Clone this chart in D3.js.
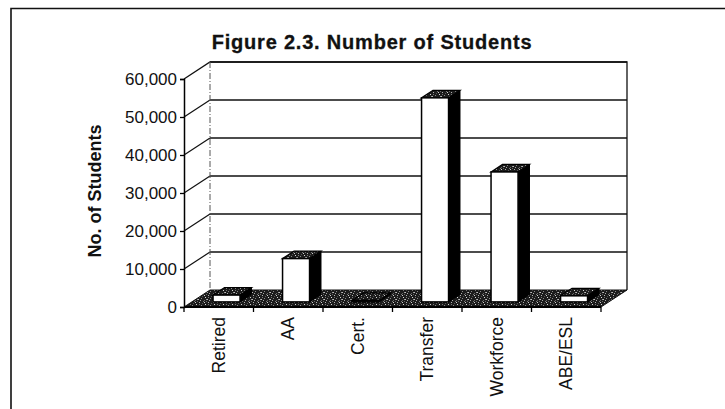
<!DOCTYPE html>
<html>
<head>
<meta charset="utf-8">
<script src="https://cdn.jsdelivr.net/npm/d3@7"></script>
<style>
  html, body { margin: 0; padding: 0; background: #fff; }
  svg { display: block; font-family: Arial, "Liberation Sans", Helvetica, sans-serif; }
</style>
</head>
<body>
<svg id="chart" width="725" height="409"></svg>
<script>
// Students by program category
const categories = ["Retired", "AA", "Cert.", "Transfer", "Workforce", "ABE/ESL"];
const students = [1800, 11400, 400, 53700, 34200, 1600];
const yTicks = [0, 10000, 20000, 30000, 40000, 50000, 60000];
const chartTitle = "Figure 2.3. Number of Students";
const yTitle = "No. of Students";

const svg = d3.select("#chart");

// oblique projection of the depth axis: full depth shifts right and up
const depthX = 26, depthY = -17;
const proj = (x, y, d) => [x + depthX * d, y + depthY * d];

// front-plane scales
const x = d3.scaleBand().domain(categories).range([184, 601]).paddingInner(0).paddingOuter(0);
const y = d3.scaleLinear().domain([0, 60000]).range([307, 79]);

// speckled dark texture for floor and bar tops
const defs = svg.append("defs");
const pat = defs.append("pattern").attr("id", "speckle")
  .attr("patternUnits", "userSpaceOnUse").attr("width", 9).attr("height", 7);
pat.append("rect").attr("width", 9).attr("height", 7).attr("fill", "#1c1c1c");
const specks = [[1,1,"#b0b0b0"],[5,0,"#777"],[7,3,"#d8d8d8"],[3,4,"#888"],[0,5,"#bbb"],[6,6,"#666"],
                [4,2,"#555"],[8,5,"#999"],[2,6,"#aaa"],[6,1,"#ccc"],[8,0,"#666"],[1,3,"#777"]];
specks.forEach(([sx, sy, c]) => pat.append("rect").attr("x", sx).attr("y", sy).attr("width", 1).attr("height", 1).attr("fill", c));

// outer frame
svg.append("path").attr("d", "M11,409 L11,8.5 L725,8.5")
  .attr("fill", "none").attr("stroke", "#111").attr("stroke-width", 1.6);

const x0 = x.range()[0], x1 = x.range()[1];
const vMax = y.domain()[1];

// back wall gridlines
const gridVals = yTicks.filter(v => v > 0);
svg.append("g").selectAll("line").data(gridVals).join("line")
  .attr("x1", x0 + depthX).attr("x2", x1 + depthX)
  .attr("y1", d => y(d) + depthY).attr("y2", d => y(d) + depthY)
  .attr("stroke", "#111").attr("stroke-width", 1.3);

// side wall gridlines
svg.append("g").selectAll("line").data(gridVals.filter(v => v < vMax)).join("line")
  .attr("x1", x0).attr("y1", d => y(d))
  .attr("x2", x0 + depthX).attr("y2", d => y(d) + depthY)
  .attr("stroke", "#111").attr("stroke-width", 1.2);

// walls outline: top edges, back corner, right edge
const topF = [x0, y(vMax)], topB = proj(x0, y(vMax), 1), topR = proj(x1, y(vMax), 1);
svg.append("path")
  .attr("d", `M${topF} L${topB} L${topR} L${proj(x1, y(0), 1)}`)
  .attr("fill", "none").attr("stroke", "#111").attr("stroke-width", 1.3);
svg.append("line")
  .attr("x1", x0 + depthX).attr("x2", x0 + depthX)
  .attr("y1", y(vMax) + depthY).attr("y2", y(0) + depthY)
  .attr("stroke", "#555").attr("stroke-width", 1).attr("stroke-dasharray", "6,2,1,2");

// floor
const floorPts = [[x0, y(0)], [x1, y(0)], proj(x1, y(0), 1), proj(x0, y(0), 1)];
svg.append("path").attr("d", "M" + floorPts.join("L") + "Z")
  .attr("fill", "url(#speckle)").attr("stroke", "#111").attr("stroke-width", 1);
svg.append("line").attr("x1", x0).attr("x2", x1).attr("y1", y(0)).attr("y2", y(0))
  .attr("stroke", "#000").attr("stroke-width", 2);

// 3D columns
const d0 = 0.3, d1 = 0.74;
const barW = 27;
const bars = svg.append("g").selectAll("g").data(categories.map((c, i) => ({ c, v: students[i] }))).join("g");
bars.each(function (d) {
  const g = d3.select(this);
  const cx = x(d.c) + x.bandwidth() / 2;
  const [fx, fyBase] = proj(cx - barW / 2, y(0), d0);
  const [, fyTop] = proj(cx, y(d.v), d0);
  const dx = depthX * (d1 - d0), dy = depthY * (d1 - d0);
  // side face
  g.append("path")
    .attr("d", `M${fx + barW},${fyTop} L${fx + barW + dx},${fyTop + dy} L${fx + barW + dx},${fyBase + dy} L${fx + barW},${fyBase} Z`)
    .attr("fill", "#000").attr("stroke", "#000").attr("stroke-width", 1);
  // top face
  g.append("path")
    .attr("d", `M${fx},${fyTop} L${fx + dx},${fyTop + dy} L${fx + barW + dx},${fyTop + dy} L${fx + barW},${fyTop} Z`)
    .attr("fill", "url(#speckle)").attr("stroke", "#000").attr("stroke-width", 1.2);
  // front face
  g.append("rect")
    .attr("x", fx).attr("y", fyTop).attr("width", barW).attr("height", Math.max(0, fyBase - fyTop))
    .attr("fill", "#fff").attr("stroke", "#000").attr("stroke-width", 1.5);
});

// value axis
const yAxis = svg.append("g").attr("transform", `translate(${x0},0)`)
  .call(d3.axisLeft(y).tickValues(yTicks).tickFormat(d3.format(",")).tickSize(4).tickPadding(3));
yAxis.select(".domain").attr("stroke", "#000").attr("stroke-width", 1.5);
yAxis.selectAll(".tick line").attr("stroke", "#000").attr("stroke-width", 1.3);
yAxis.selectAll(".tick text").attr("font-size", 17).attr("fill", "#111")
  .attr("font-family", "Arial, 'Liberation Sans', sans-serif");

// category ticks at band boundaries
const edges = categories.map(c => x(c)).concat([x1]);
svg.append("g").selectAll("line").data(edges).join("line")
  .attr("x1", d => d).attr("x2", d => d).attr("y1", y(0)).attr("y2", y(0) + 5)
  .attr("stroke", "#000").attr("stroke-width", 1.3);

// category labels, rotated
svg.append("g").selectAll("text").data(categories).join("text")
  .attr("transform", d => `translate(${x(d) + x.bandwidth() / 2},317) rotate(-90)`)
  .attr("text-anchor", "end").attr("dy", "0.35em")
  .attr("font-size", 17.5).attr("fill", "#111")
  .text(d => d);

// axis title
svg.append("text")
  .attr("transform", "translate(95,191) rotate(-90)")
  .attr("text-anchor", "middle").attr("dy", "0.35em")
  .attr("font-size", 18).attr("font-weight", "bold").attr("fill", "#111")
  .text(yTitle);

// chart title
svg.append("text")
  .attr("x", 372).attr("y", 49)
  .attr("text-anchor", "middle")
  .attr("font-size", 20).attr("font-weight", "bold").attr("fill", "#111")
  .attr("stroke", "#111").attr("stroke-width", 0.3)
  .attr("letter-spacing", 0.8)
  .text(chartTitle);
</script>
</body>
</html>
